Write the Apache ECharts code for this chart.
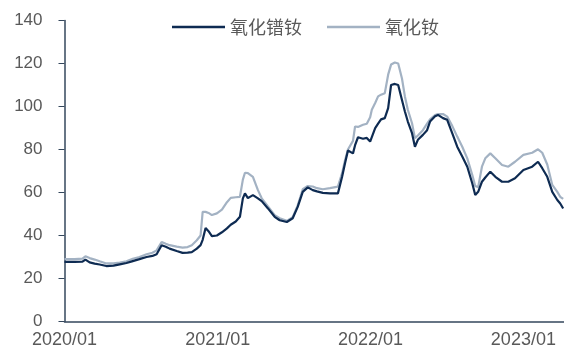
<!DOCTYPE html>
<html>
<head>
<meta charset="utf-8">
<title>氧化镨钕 / 氧化钕</title>
<script src="https://cdn.jsdelivr.net/npm/echarts@6/dist/echarts.min.js"></script>
<style>
  html, body { margin: 0; padding: 0; background: #fff; }
  .echarts_1 { width: 564px; height: 351px; }
</style>
</head>
<body>
<div class="echarts_1"></div>
<script>
// 日期（从图上读出的大致位置）
var dates = [
  '2020-01-01','2020-01-25','2020-02-13','2020-02-20','2020-03-01','2020-03-13','2020-03-25','2020-04-10',
  '2020-04-27','2020-05-12','2020-05-28','2020-06-12','2020-06-28','2020-07-15','2020-07-29','2020-08-08',
  '2020-08-20','2020-08-30','2020-09-08','2020-09-25','2020-10-09','2020-10-21','2020-10-31','2020-11-12',
  '2020-11-21','2020-11-26','2020-12-03','2020-12-10','2020-12-18','2020-12-30','2021-01-11','2021-01-23',
  '2021-02-01','2021-02-13','2021-02-23','2021-03-02','2021-03-07','2021-03-14','2021-03-26','2021-04-07',
  '2021-04-16','2021-05-01','2021-05-17','2021-05-29','2021-06-15','2021-06-29','2021-07-11','2021-07-23',
  '2021-08-04','2021-08-16','2021-08-26','2021-09-09','2021-09-26','2021-10-15','2021-10-25','2021-11-01',
  '2021-11-08','2021-11-20','2021-11-25','2021-12-02','2021-12-14','2021-12-23','2021-12-31','2022-01-04',
  '2022-01-12','2022-01-19','2022-01-26','2022-02-04','2022-02-12','2022-02-19','2022-02-28','2022-03-08',
  '2022-03-17','2022-03-24','2022-03-31','2022-04-10','2022-04-17','2022-04-24','2022-05-06','2022-05-16',
  '2022-05-23','2022-06-04','2022-06-11','2022-06-23','2022-07-03','2022-07-15','2022-07-27','2022-08-08',
  '2022-08-20','2022-09-01','2022-09-08','2022-09-15','2022-09-24','2022-10-02','2022-10-14','2022-10-26',
  '2022-11-11','2022-11-26','2022-12-12','2023-01-01','2023-01-22','2023-02-05','2023-02-15','2023-02-27',
  '2023-03-11','2023-03-23','2023-03-30','2023-04-06'
];

// 氧化镨钕
var prndValues = [
  27.7, 27.7, 27.8, 28.8, 27.5, 26.9, 26.5, 25.8,
  26.0, 26.6, 27.2, 28.1, 29.0, 30.0, 30.5, 31.3,
  35.5, 34.8, 33.9, 32.8, 31.9, 32.0, 32.3, 33.9,
  35.5, 38.0, 43.5, 42.0, 39.7, 40.0, 41.5, 43.3,
  45.0, 46.5, 48.7, 57.3, 59.6, 57.4, 58.8, 57.3,
  56.0, 52.6, 48.7, 47.1, 46.3, 48.0, 53.3, 60.3,
  62.4, 61.1, 60.5, 59.8, 59.6, 59.6, 67.3, 73.6,
  79.5, 78.2, 82.0, 85.7, 85.0, 85.4, 83.7, 84.5,
  89.9, 92.0, 94.0, 94.6, 99.2, 110.0, 110.5, 110.0,
  103.0, 97.7, 93.0, 87.6, 81.3, 84.5, 86.8, 89.0,
  93.0, 95.5, 96.1, 94.6, 93.8, 87.6, 81.3, 76.7,
  72.0, 64.2, 58.8, 60.3, 65.0, 67.0, 69.7, 67.3,
  65.0, 65.0, 66.6, 70.5, 72.0, 74.3, 71.3, 67.3,
  60.3, 56.5, 54.9, 52.6
];

// 氧化钕
var ndValues = [
  29.0, 29.0, 29.2, 30.3, 29.5, 28.8, 28.0, 27.0,
  27.0, 27.4, 28.0, 29.2, 30.0, 31.3, 32.0, 33.1,
  37.0, 36.2, 35.5, 34.8, 34.4, 34.6, 35.5, 37.8,
  40.0, 51.0, 51.0, 50.5, 49.5, 50.3, 52.0, 55.5,
  57.5, 57.8, 58.0, 66.0, 69.2, 69.0, 67.3, 61.1,
  57.3, 53.5, 49.5, 48.0, 46.8, 48.5, 54.0, 61.5,
  63.0, 62.8, 62.0, 61.5, 62.0, 62.7, 69.0, 75.0,
  80.0, 84.0, 90.7, 90.5, 91.5, 92.0, 95.0, 98.5,
  101.6, 104.7, 105.5, 106.2, 114.8, 119.5, 120.5, 120.0,
  113.0, 104.7, 98.5, 92.2, 85.3, 86.5, 89.0, 92.0,
  94.0, 96.0, 96.5, 96.5, 95.3, 91.0, 86.0, 81.3,
  75.9, 68.1, 63.0, 62.5, 72.0, 75.9, 78.2, 75.9,
  72.8, 72.0, 74.3, 77.5, 78.5, 80.1, 78.5, 73.0,
  63.5, 60.3, 58.0, 57.0
];

var seriesNames = ['氧化镨钕', '氧化钕'];

function pairs(vals) {
  return dates.map(function (d, i) { return [d, vals[i]]; });
}

var echarts_1 = echarts.init(document.querySelector('.echarts_1'));

var YEAR = 365 * 24 * 3600 * 1000;

var option1 = {
  animation: false,
  textStyle: { fontFamily: 'Liberation Sans, Arial, sans-serif' },
  // 图例：只画一条线，不要圆点
  legend: {
    left: 167,
    top: 13,
    icon: 'rect',
    itemWidth: 53,
    itemHeight: 2.5,
    itemGap: 25,
    textStyle: {
      color: '#595959',
      fontSize: 18,
      fontFamily: 'Noto Sans CJK SC'
    },
    data: seriesNames
  },
  grid: { left: 64.5, right: 0, top: 20.5, bottom: 29.5 },
  xAxis: {
    type: 'time',
    min: '2020-01-01',
    max: '2023-04-08',
    minInterval: YEAR,
    maxInterval: YEAR + 24 * 3600 * 1000,
    axisLine: { lineStyle: { color: '#34475c', width: 1.5 } },
    axisTick: { show: false },
    splitLine: { show: false },
    axisLabel: {
      color: '#595959',
      fontSize: 18,
      margin: 10,
      formatter: '{yyyy}/{MM}'
    }
  },
  yAxis: {
    type: 'value',
    min: 0,
    max: 140,
    interval: 20,
    axisLine: { show: true, lineStyle: { color: '#34475c', width: 1.5 } },
    axisTick: { show: true, inside: false, length: 6, lineStyle: { color: '#34475c' } },
    splitLine: { show: false },
    axisLabel: { color: '#595959', fontSize: 17, margin: 22 }
  },
  series: [
    {
      name: seriesNames[0],
      type: 'line',
      symbol: 'none',
      z: 3,
      lineStyle: { color: '#0e2b52', width: 2.2 },
      itemStyle: { color: '#0e2b52' },
      data: pairs(prndValues)
    },
    {
      name: seriesNames[1],
      type: 'line',
      symbol: 'none',
      z: 2,
      lineStyle: { color: '#a3b2c3', width: 2.2 },
      itemStyle: { color: '#a3b2c3' },
      data: pairs(ndValues)
    }
  ]
};

echarts_1.setOption(option1);
</script>
</body>
</html>
